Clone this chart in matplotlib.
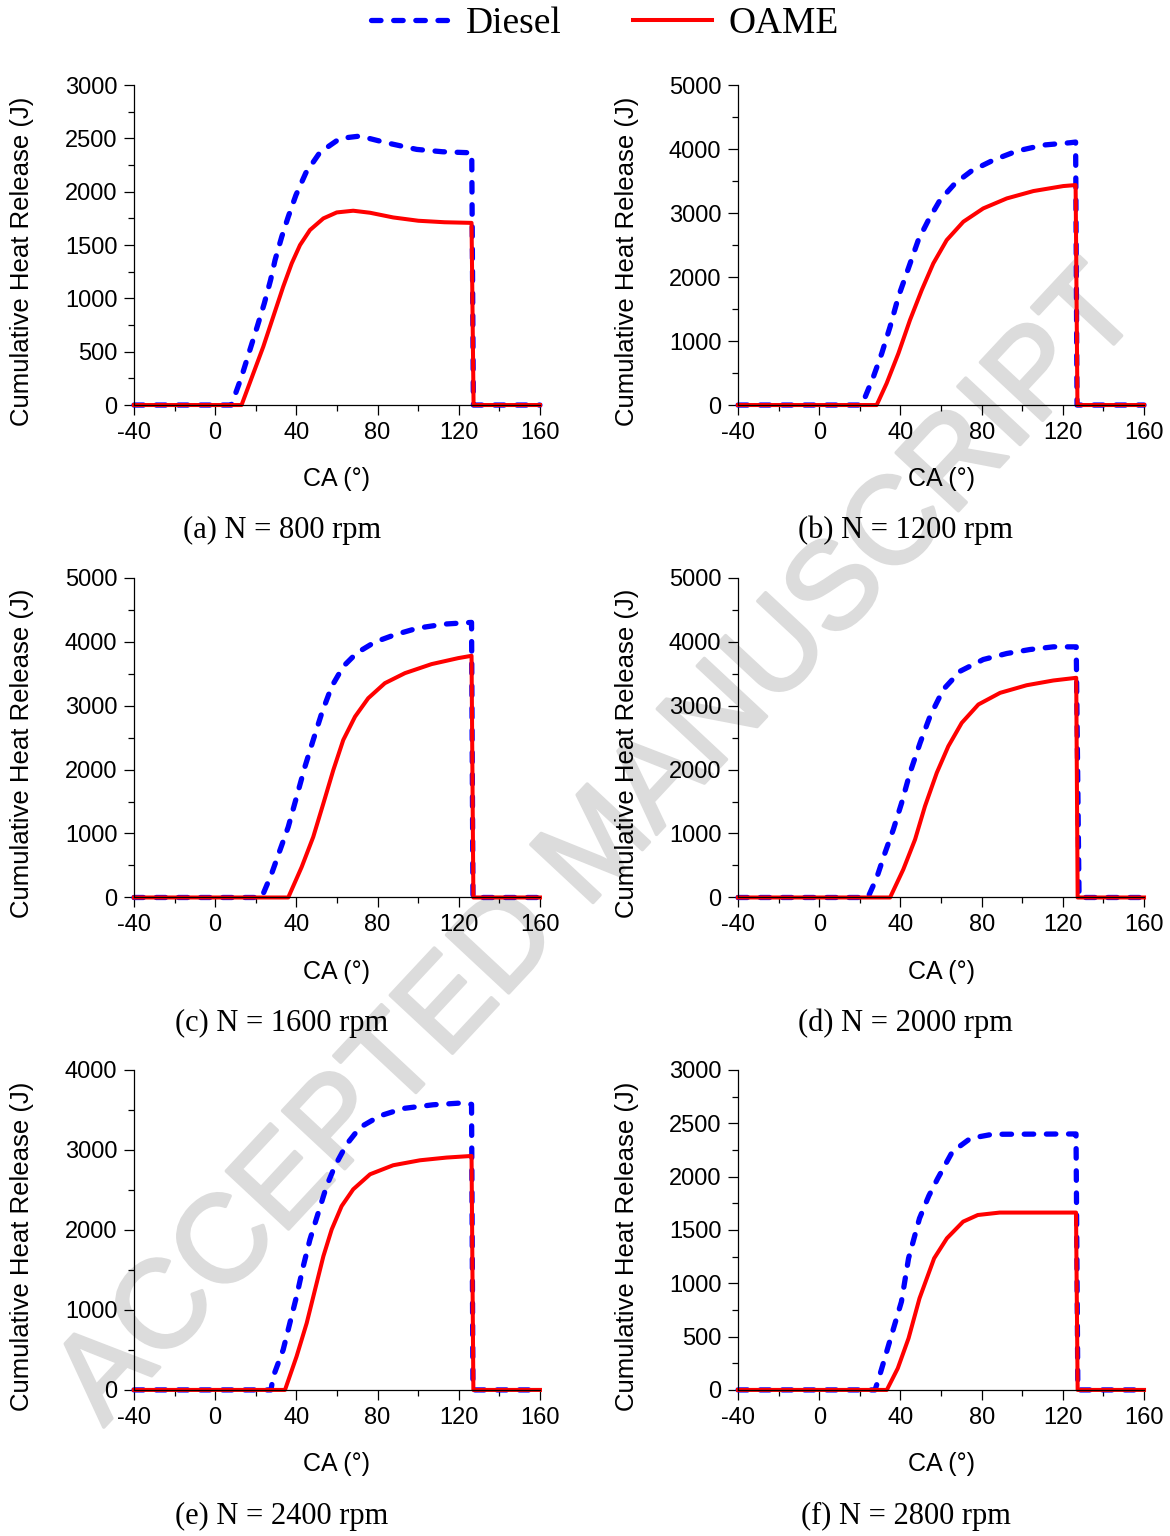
import matplotlib
matplotlib.use("Agg")
import matplotlib.pyplot as plt
import matplotlib.patheffects as pe
from matplotlib.ticker import MultipleLocator

plt.rcParams['font.family'] = ['Liberation Sans', 'DejaVu Sans']
plt.rcParams['axes.unicode_minus'] = False

# ---- data (CA in deg, heat release in J) ----
# (a) 800 rpm
ca_d_800 = [-40, 8, 13.0, 17.1, 20.7, 24.2, 27.3, 29.5, 32.8, 36.0, 39.8, 44.7, 51.6, 61.5, 71.3, 84.4, 99.3, 112, 126.4, 127.2, 160]
q_d_800 = [0, 0, 265, 516, 734, 953, 1172, 1359, 1578, 1765, 1969, 2178, 2369, 2500, 2522, 2459, 2397, 2375, 2365, 0, 0]
ca_o_800 = [-40, 13.0, 18.8, 23.7, 28.6, 33.5, 37.7, 41.8, 46.7, 53.3, 59.9, 68.0, 76.3, 87.7, 100.1, 113, 126.3, 127.3, 160]
q_o_800 = [0, 0, 297, 547, 828, 1109, 1328, 1500, 1641, 1750, 1806, 1822, 1803, 1759, 1728, 1714, 1708, 0, 0]

# (b) 1200 rpm
ca_d_1200 = [-40, 21.0, 26.7, 30.8, 34.9, 39.0, 43.9, 48.8, 53.8, 59.5, 66.9, 75.1, 85.8, 97.3, 110.4, 123.5, 126.3, 127, 160]
q_d_1200 = [0, 0, 443, 807, 1224, 1693, 2135, 2578, 2891, 3203, 3464, 3661, 3828, 3969, 4063, 4099, 4110, 0, 0]
ca_o_1200 = [-40, 28.3, 33.2, 39.0, 44.7, 50.5, 56.2, 62.8, 71.0, 80.8, 92.4, 105.5, 120.2, 126.3, 127.2, 160]
q_o_1200 = [0, 0, 339, 807, 1328, 1797, 2214, 2578, 2865, 3073, 3229, 3344, 3422, 3438, 0, 0]

# (c) 1600 rpm
ca_d_1600 = [-40, 22.9, 27.8, 31.9, 36.0, 40.1, 44.2, 48.3, 52.5, 57.4, 63.1, 69.7, 78.7, 88.6, 100, 113.2, 126.3, 127, 160]
q_d_1600 = [0, 0, 371, 737, 1102, 1571, 2041, 2461, 2880, 3297, 3610, 3820, 3992, 4107, 4211, 4273, 4299, 0, 0]
ca_o_1600 = [-40, 36.0, 42.6, 48.3, 53.3, 58.2, 63.1, 68.9, 75.4, 83.6, 93.5, 106.6, 119.8, 126.3, 127.2, 160]
q_o_1600 = [0, 0, 475, 945, 1469, 1991, 2461, 2826, 3114, 3349, 3506, 3647, 3741, 3777, 0, 0]

# (d) 2000 rpm
ca_d_2000 = [-40, 24.0, 28.3, 32.4, 36.5, 40.6, 44.7, 49.7, 54.6, 61.1, 69.4, 80.8, 92.4, 103.8, 115.3, 126.6, 128, 160]
q_d_2000 = [0, 0, 307, 698, 1063, 1479, 1948, 2417, 2833, 3250, 3536, 3719, 3813, 3875, 3917, 3917, 0, 0]
ca_o_2000 = [-40, 34.9, 41.4, 47.2, 52.1, 57.9, 63.6, 70.2, 78.4, 89.1, 102.2, 115.3, 126.6, 127.3, 160]
q_o_2000 = [0, 0, 438, 906, 1427, 1948, 2364, 2729, 3016, 3198, 3317, 3391, 3433, 0, 0]

# (e) 2400 rpm
ca_d_2400 = [-40, 27.5, 28.6, 33.5, 36.8, 40.1, 43.4, 46.7, 50.8, 54.9, 59.0, 64.8, 71.3, 81.2, 92.7, 107.4, 120.6, 126.3, 127, 160]
q_d_2400 = [0, 0, 167, 502, 836, 1170, 1546, 1881, 2215, 2549, 2800, 3072, 3281, 3427, 3519, 3565, 3586, 3570, 0, 0]
ca_o_2400 = [-40, 34.4, 40.1, 45.1, 49.2, 53.3, 57.4, 62.3, 68.0, 76.3, 87.7, 100.9, 114.0, 126.3, 127.2, 160]
q_o_2400 = [0, 0, 418, 836, 1254, 1671, 2006, 2298, 2508, 2696, 2809, 2871, 2905, 2925, 0, 0]

# (f) 2800 rpm
ca_d_2800 = [-40, 27.5, 30, 34.2, 40.5, 44, 49.4, 54, 58.4, 65.6, 74.5, 85.3, 124.7, 126.5, 127.4, 160]
q_d_2800 = [0, 0, 150, 422, 828, 1234, 1609, 1820, 1984, 2234, 2359, 2397, 2400, 2400, 0, 0]
ca_o_2800 = [-40, 33.3, 38.7, 44, 49.4, 56.6, 62.9, 70.9, 78.1, 88.9, 126.5, 127.3, 160]
q_o_2800 = [0, 0, 203, 484, 859, 1234, 1422, 1578, 1640, 1663, 1663, 0, 0]

captions = ["(a) N = 800 rpm", "(b) N = 1200 rpm", "(c) N = 1600 rpm",
            "(d) N = 2000 rpm", "(e) N = 2400 rpm", "(f) N = 2800 rpm"]
y_tops = [3000, 5000, 5000, 5000, 4000, 3000]
y_steps = [500, 1000, 1000, 1000, 1000, 500]

panels = [
    (ca_d_800, q_d_800, ca_o_800, q_o_800),
    (ca_d_1200, q_d_1200, ca_o_1200, q_o_1200),
    (ca_d_1600, q_d_1600, ca_o_1600, q_o_1600),
    (ca_d_2000, q_d_2000, ca_o_2000, q_o_2000),
    (ca_d_2400, q_d_2400, ca_o_2400, q_o_2400),
    (ca_d_2800, q_d_2800, ca_o_2800, q_o_2800),
]

fig = plt.figure(figsize=(11.7, 15.36), dpi=100)

lefts = [0.1145, 0.6308]
bottoms = [0.7363, 0.4157, 0.0951]
w, h = 0.347, 0.2083
cap_x = [0.241, 0.774]
cap_y = [0.6549, 0.334, 0.0124]

# watermark behind everything
wm = fig.text(0.513, 0.448, "ACCEPTED MANUSCRIPT", rotation=47, fontsize=89,
              color="#dcdcdc", ha="center", va="center",
              zorder=-5, family=["Liberation Sans", "DejaVu Sans"])
wm.set_path_effects([pe.withStroke(linewidth=2.5, foreground="#dcdcdc",
                                   capstyle="round", joinstyle="round")])

handles = None
for i, (cd, qd, co, qo) in enumerate(panels):
    r, c = divmod(i, 2)
    ax = fig.add_axes([lefts[c], bottoms[r], w, h])
    ax.patch.set_alpha(0)
    ld, = ax.plot(cd, qd, color="#0000ff", lw=3.8, dashes=(1.8, 2.4),
                  dash_capstyle="round", label="Diesel", clip_on=False)
    lo, = ax.plot(co, qo, color="#ff0000", lw=2.9, label="OAME", clip_on=False)
    handles = [ld, lo]
    ax.set_xlim(-40, 160)
    ax.set_ylim(0, y_tops[i])
    ax.xaxis.set_major_locator(MultipleLocator(40))
    ax.xaxis.set_minor_locator(MultipleLocator(20))
    ax.yaxis.set_major_locator(MultipleLocator(y_steps[i]))
    ax.yaxis.set_minor_locator(MultipleLocator(y_steps[i] / 2))
    for s in ["top", "right"]:
        ax.spines[s].set_visible(False)
    for s in ["left", "bottom"]:
        ax.spines[s].set_linewidth(0.9)
    ax.tick_params(which="major", direction="out", length=7, width=0.9,
                   labelsize=17, pad=5)
    ax.tick_params(which="minor", direction="out", length=4.5, width=0.9)
    ax.set_xlabel("CA (°)", fontsize=18)
    ax.set_ylabel("Cumulative Heat Release (J)", fontsize=18.5)
    ax.xaxis.set_label_coords(0.5, -0.195)
    ax.yaxis.set_label_coords(-0.245, 0.45)
    fig.text(cap_x[c], cap_y[r], captions[i], ha="center", va="center",
             fontsize=22, family=["Liberation Serif", "DejaVu Serif"])

fig.legend(handles, ["Diesel", "OAME"], loc="center", bbox_to_anchor=(0.517, 0.9845),
           ncol=2, frameon=False, handlelength=2.1, handletextpad=0.45,
           columnspacing=1.9, prop={"family": "Liberation Serif", "size": 27})

fig.savefig("out.png", dpi=100)
